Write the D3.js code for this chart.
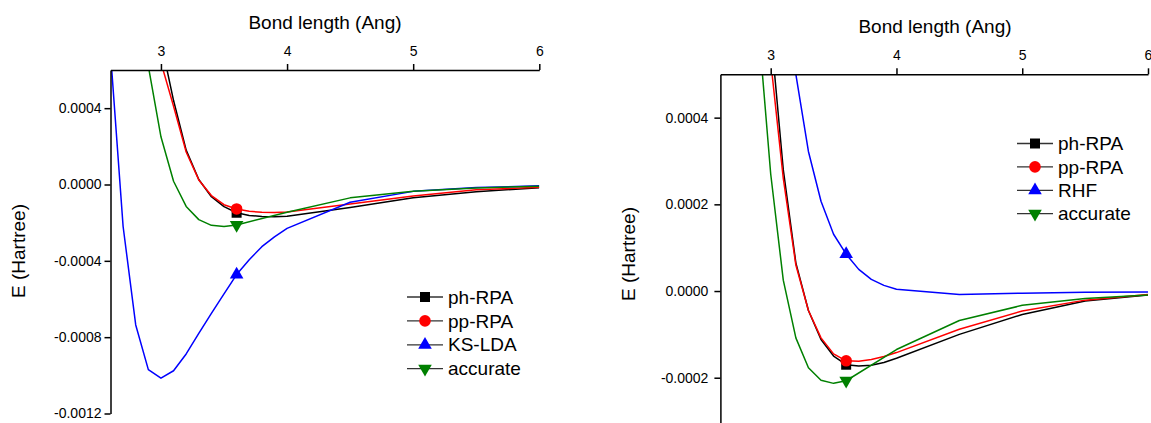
<!DOCTYPE html>
<html>
<head>
<meta charset="utf-8">
<script src="https://cdn.jsdelivr.net/npm/d3@7"></script>
<style>
body { margin: 0; background: #fff; }
svg { display: block; font-family: "Liberation Sans", Arial, sans-serif; }
</style>
</head>
<body>
<svg id="chart" width="1151" height="423"></svg>
<script>
// bond lengths (Ang) shared by every curve
var bondLengths = [2.6, 2.7, 2.8, 2.9, 3.0, 3.1, 3.2, 3.3, 3.4, 3.5, 3.6, 3.7, 3.8, 3.9, 4.0, 4.5, 5.0, 5.5, 6.0];
var markerBond = 3.6;
var xTicks = [3, 4, 5, 6];
var leftTicks = [0.0004, 0, -0.0004, -0.0008, -0.0012];
var rightTicks = [0.0004, 0.0002, 0, -0.0002];

// left panel, E in Hartree (null = no point there)
var phRpaLeft = [null, null, null, null, 7.5e-4, 4.4e-4, 1.8e-4, 2.6e-5, -6.4e-5, -1.16e-4, -1.48e-4, -1.62e-4, -1.68e-4, -1.69e-4, -1.66e-4, -1.2e-4, -7.0e-5, -3.8e-5, -1.7e-5];
var ppRpaLeft = [null, null, null, null, 6.4e-4, 4.1e-4, 1.7e-4, 2.4e-5, -5.8e-5, -1.06e-4, -1.28e-4, -1.40e-4, -1.46e-4, -1.47e-4, -1.44e-4, -1.02e-4, -6.0e-5, -2.8e-5, -1.4e-5];
var ksLdaLeft = [6.9e-4, -2.2e-4, -7.36e-4, -9.7e-4, -1.015e-3, -9.76e-4, -8.88e-4, -7.8e-4, -6.75e-4, -5.73e-4, -4.72e-4, -3.94e-4, -3.26e-4, -2.74e-4, -2.30e-4, -9.3e-5, -3.6e-5, -1.6e-5, -7e-6];
var accurateLeft = [null, null, null, 6.2e-4, 2.5e-4, 1.7e-5, -1.15e-4, -1.84e-4, -2.14e-4, -2.20e-4, -2.12e-4, null, null, null, -1.45e-4, -7.0e-5, -3.5e-5, -1.8e-5, -9e-6];

// right panel
var phRpaRight = [null, null, null, null, 6.0e-4, 2.8e-4, 6.5e-5, -4.5e-5, -1.12e-4, -1.50e-4, -1.70e-4, -1.73e-4, -1.71e-4, -1.65e-4, -1.55e-4, -1.0e-4, -5.4e-5, -2.3e-5, -9e-6];
var ppRpaRight = [null, null, null, null, 5.3e-4, 2.6e-4, 6.0e-5, -4.5e-5, -1.08e-4, -1.45e-4, -1.61e-4, -1.62e-4, -1.58e-4, -1.51e-4, -1.42e-4, -8.8e-5, -4.6e-5, -2.1e-5, -8e-6];
var rhfRight = [null, null, null, null, null, 9.5e-4, 5.0e-4, 3.22e-4, 2.07e-4, 1.31e-4, 8.5e-5, 5.0e-5, 2.7e-5, 1.3e-5, 4e-6, -8e-6, -5e-6, -3e-6, -2e-6];
var accurateRight = [null, null, null, 6.2e-4, 2.7e-4, 2.5e-5, -1.08e-4, -1.77e-4, -2.06e-4, -2.13e-4, -2.07e-4, null, null, null, -1.35e-4, -6.8e-5, -3.3e-5, -1.7e-5, -9e-6];

var leftLabels = ['ph-RPA', 'pp-RPA', 'KS-LDA', 'accurate'];
var rightLabels = ['ph-RPA', 'pp-RPA', 'RHF', 'accurate'];

var seriesColors = ['#000000', '#ff0000', '#0000ff', '#008000'];
var seriesSymbols = [d3.symbolSquare, d3.symbolCircle, d3.symbolTriangle, d3.symbolTriangle];
var symbolSizes = [100, 105, 80, 80];
var symbolTurns = [0, 0, 0, 180];

// hyphen minus like the original, d3 v7 uses U+2212 by default
var fmt = d3.formatLocale({decimal: '.', thousands: ',', grouping: [3], currency: ['', ''], minus: '-'}).format('.4f');

/**
 * One energy panel: top x axis, left y axis, four curves and a legend
 */
function EnergyPanel(cfg)
{
    var self = this;
    self.cfg = cfg;
    self.init();
}

EnergyPanel.prototype.init = function()
{
    var self = this;
    var c = self.cfg;

    self.svg = d3.select('#chart');
    self.g = self.svg.append('g').attr('id', c.id);

    self.x = d3.scaleLinear().domain([2.6, 6]).range([c.left, c.right]);
    self.y = d3.scaleLinear().domain(c.yDomain).range([c.bottom, c.top]);

    self.g.append('clipPath').attr('id', c.id + '-clip')
        .append('rect')
        .attr('x', c.left).attr('y', c.top)
        .attr('width', c.right - c.left).attr('height', c.bottom - c.top);

    self.valueLine = d3.line()
        .x(function(d) { return self.x(d.r); })
        .y(function(d) { return self.y(d.e); });
};

EnergyPanel.prototype.update = function(series, labels, yTicks)
{
    var self = this;
    var c = self.cfg;

    // curves
    var curves = self.g.append('g').attr('clip-path', 'url(#' + c.id + '-clip)');
    series.forEach(function(vals, i) {
        var pts = bondLengths.map(function(r, j) { return {r: r, e: vals[j]}; })
            .filter(function(d) { return d.e !== null; });
        curves.append('path')
            .attr('d', self.valueLine(pts))
            .style('fill', 'none')
            .style('stroke', seriesColors[i])
            .style('stroke-width', 1.5)
            .style('stroke-linejoin', 'round');
    });

    // one marker per curve at r = 3.6
    var mi = bondLengths.indexOf(markerBond);
    series.forEach(function(vals, i) {
        self.g.append('path')
            .attr('d', d3.symbol().type(seriesSymbols[i]).size(symbolSizes[i])())
            .attr('transform', 'translate(' + self.x(markerBond) + ',' + self.y(vals[mi]) + ') rotate(' + symbolTurns[i] + ')')
            .style('fill', seriesColors[i]);
    });

    // axes
    var xAxis = d3.axisTop(self.x).tickValues(xTicks).tickFormat(d3.format('d'))
        .tickSize(6).tickSizeOuter(0).tickPadding(8);
    var yAxis = d3.axisLeft(self.y).tickValues(yTicks).tickFormat(fmt)
        .tickSize(6).tickSizeOuter(0).tickPadding(c.yPad);

    var gx = self.g.append('g').attr('class', 'x-axis')
        .attr('transform', 'translate(0,' + c.top + ')')
        .call(xAxis);
    var gy = self.g.append('g').attr('class', 'y-axis')
        .attr('transform', 'translate(' + c.left + ',0)')
        .call(yAxis);

    [gx, gy].forEach(function(ax) {
        ax.attr('font-family', null).attr('font-size', null);
        ax.select('.domain').style('stroke', '#000').style('stroke-width', 1.5);
        ax.selectAll('.tick line').style('stroke', '#000').style('stroke-width', 1.5);
        ax.selectAll('.tick text').style('font-size', '14px').style('fill', '#000');
    });

    // titles
    self.g.append('text')
        .attr('x', c.titleX).attr('y', c.titleY)
        .attr('text-anchor', 'middle')
        .style('font-size', '19px')
        .text('Bond length (Ang)');

    self.g.append('text')
        .attr('transform', 'translate(' + c.yTitleX + ',' + c.yTitleY + ') rotate(-90)')
        .attr('text-anchor', 'middle')
        .style('font-size', '19px')
        .text('E (Hartree)');

    // legend
    var leg = self.g.append('g');
    labels.forEach(function(lab, i) {
        var ly = c.legY + i * c.legStep;
        leg.append('line')
            .attr('x1', c.legX - 18).attr('x2', c.legX + 18)
            .attr('y1', ly).attr('y2', ly)
            .style('stroke', '#333').style('stroke-width', 1.3);
        leg.append('path')
            .attr('d', d3.symbol().type(seriesSymbols[i]).size(symbolSizes[i])())
            .attr('transform', 'translate(' + c.legX + ',' + ly + ') rotate(' + symbolTurns[i] + ')')
            .style('fill', seriesColors[i]);
        leg.append('text')
            .attr('x', c.legX + 23).attr('y', ly)
            .attr('dy', '0.35em')
            .style('font-size', '19px')
            .text(lab);
    });
};

var leftPanel = new EnergyPanel({
    id: 'left', left: 110.5, right: 539.3, top: 70, bottom: 413.5,
    yDomain: [-0.0012, 0.0006], yPad: 3,
    titleX: 325, titleY: 29, yTitleX: 25, yTitleY: 251,
    legX: 425, legY: 297, legStep: 23.9
});
leftPanel.update([phRpaLeft, ppRpaLeft, ksLdaLeft, accurateLeft], leftLabels, leftTicks);

var rightPanel = new EnergyPanel({
    id: 'right', left: 720.4, right: 1148, top: 74.3, bottom: 425.4,
    yDomain: [-0.00031, 0.0005], yPad: 6,
    titleX: 935, titleY: 33, yTitleX: 635, yTitleY: 254,
    legX: 1035, legY: 143.5, legStep: 23.4
});
rightPanel.update([phRpaRight, ppRpaRight, rhfRight, accurateRight], rightLabels, rightTicks);
</script>
</body>
</html>
